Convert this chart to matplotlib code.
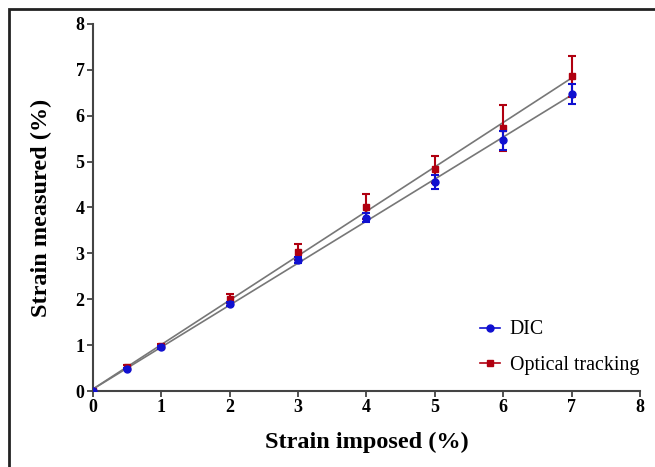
import numpy as np
import matplotlib.pyplot as plt
from matplotlib.lines import Line2D
from matplotlib.patches import Rectangle

imposed = [0, 0.5, 1, 2, 3, 4, 5, 6, 7]
dic_mean = [0, 0.49, 0.95, 1.89, 2.86, 3.78, 4.56, 5.46, 6.48]
dic_err = [0, 0.02, 0.03, 0.04, 0.07, 0.10, 0.15, 0.20, 0.22]
opt_mean = [0, 0.52, 0.98, 2.01, 3.03, 4.02, 4.83, 5.74, 6.86]
opt_err = [0, 0.04, 0.04, 0.10, 0.18, 0.28, 0.29, 0.50, 0.45]

plt.rcParams['font.family'] = ['Liberation Serif', 'DejaVu Serif']

fig = plt.figure(figsize=(6.55, 4.67), dpi=100)
ax = fig.add_axes([0.142, 0.1627, 0.835, 0.786])

# frame around the whole figure
fig.patches.append(Rectangle((9 / 655, -0.1), 1.2, 1.1 - 9 / 467,
                             transform=fig.transFigure, fill=False,
                             edgecolor='#222222', linewidth=2, clip_on=False))

x = np.array(imposed)
xx = np.array([0, 7])
for mean in [dic_mean, opt_mean]:
    p = np.polyfit(x, mean, 1)
    ax.plot(xx, np.polyval(p, xx), color='#777777', linewidth=1.2, zorder=2)

ax.errorbar(imposed, opt_mean, yerr=opt_err, fmt='s', color='#b00010',
            markersize=5, capsize=3, elinewidth=1.5, capthick=1.5, zorder=3)
ax.errorbar(imposed, dic_mean, yerr=dic_err, fmt='o', color='#1010d0',
            markersize=5, capsize=3, elinewidth=1.5, capthick=1.5, zorder=4)

ax.set_xlim(0, 8)
ax.set_ylim(0, 8)
ax.set_xticks(range(9))
ax.set_yticks(range(9))
for s in ['top', 'right']:
    ax.spines[s].set_visible(False)
for s in ['left', 'bottom']:
    ax.spines[s].set_color('#444444')
    ax.spines[s].set_linewidth(1.5)
ax.tick_params(direction='out', length=4, width=1.3, color='#444444',
               labelsize=13, pad=2)
for lab in ax.get_xticklabels() + ax.get_yticklabels():
    lab.set_fontweight('bold')

ax.set_xlabel('Strain imposed (%)', fontsize=17.5, fontweight='bold', labelpad=11)
ax.set_ylabel('Strain measured (%)', fontsize=17.5, fontweight='bold', labelpad=17)

handles = [Line2D([], [], color='#1010d0', marker='o', markersize=5, linewidth=1.2),
           Line2D([], [], color='#b00010', marker='s', markersize=5, linewidth=1.2)]
ax.legend(handles, ['DIC', 'Optical tracking'], loc='lower right',
          bbox_to_anchor=(1.031, -0.006), frameon=False, fontsize=14.3,
          handlelength=1.0, labelspacing=0.85, handletextpad=0.5)

fig.savefig('out.png', dpi=100)
